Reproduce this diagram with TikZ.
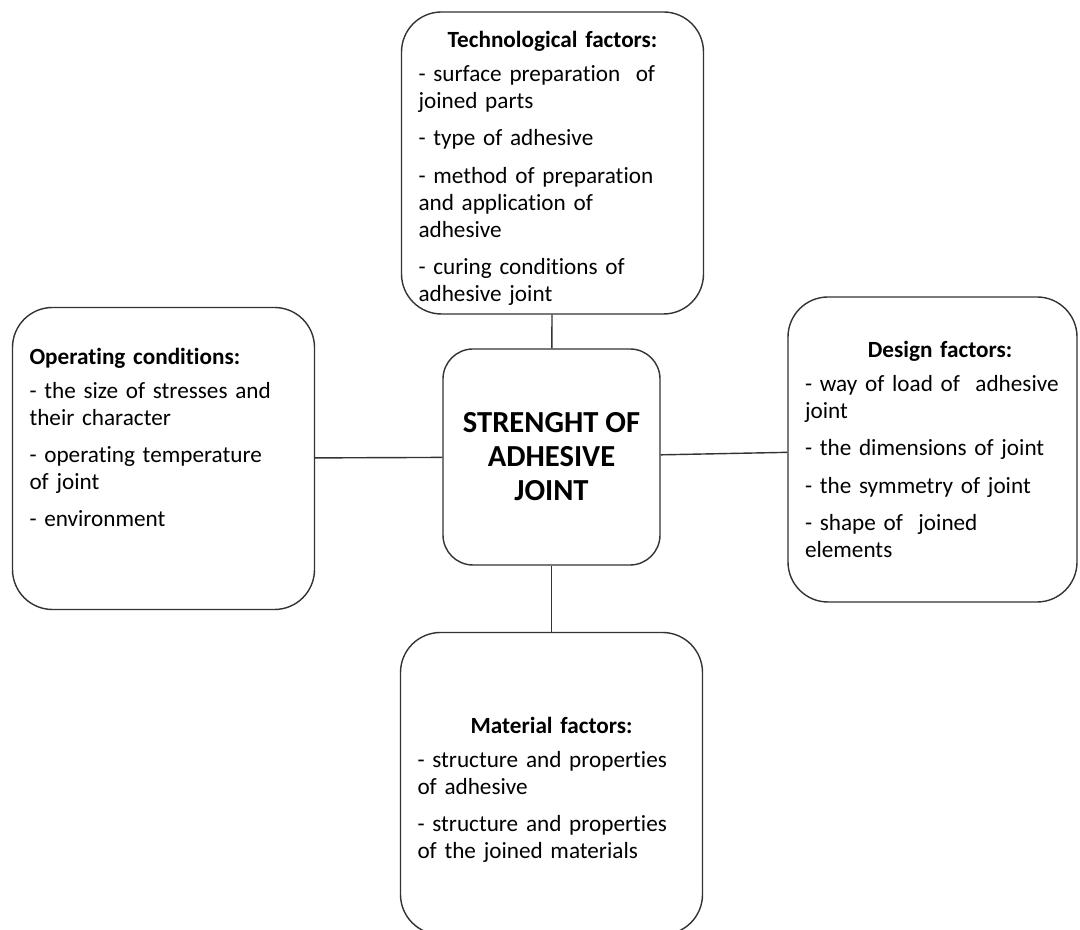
\documentclass[tikz,border=0pt]{standalone}
\usepackage{fontspec}
\setmainfont{Carlito}[Ligatures=NoCommon]
\usepackage{tikz}
\tikzstyle{factor} = [draw=black!80, line width=0.8pt, rounded corners=0.8cm, inner xsep=0.34cm, inner ysep=0pt, minimum height=6.04cm, text width=5.36cm, align=left, font=\fontsize{13.2}{15.3}\selectfont]
\tikzstyle{core} = [draw=black!80, line width=0.8pt, rounded corners=0.6cm, minimum width=4.34cm, minimum height=4.32cm, align=center, font=\fontsize{17.4}{19.3}\selectfont\bfseries]
\tikzstyle{link} = [draw=black!80, line width=0.8pt]

\begin{document}
\begin{tikzpicture}
  \useasboundingbox (0,0) rectangle (21.6,18.6);
  \node (core) at (11.03,9.46) [core] {STRENGHT OF\\ ADHESIVE\\ JOINT};
  \node (tech) at (11.05,15.34) [factor] {\makebox[\linewidth]{\rule{0pt}{0.54cm}\bfseries Technological factors:}\\[4pt]
    - surface preparation~ of\\ joined parts\\[6pt]
    - type of adhesive\\[6pt]
    - method of preparation\\ and application of\\ adhesive\\[6pt]
    - curing conditions of\\ adhesive joint};
  \node (oper) at (3.27,9.43) [factor] {\textbf{Operating conditions:}\\[4pt]
    - the size of stresses and\\ their character\\[6pt]
    - operating temperature\\ of joint\\[6pt]
    - environment\par\kern0.84cm};
  \node (design) at (18.65,9.61) [factor, text width=5.1cm, minimum height=6.1cm] {\makebox[\linewidth]{\hspace{0.3cm}\bfseries Design factors:}\\[4pt]
    - way~of~load~of~~adhesive\\ joint\\[6pt]
    - the dimensions of joint\\[6pt]
    - the symmetry of joint\\[6pt]
    - shape of~ joined\\ elements};
  \node (mat) at (11.03,2.93) [factor] {\makebox[\linewidth]{\rule{0pt}{0.58cm}\bfseries Material factors:}\\[4pt]
    - structure and properties\\ of adhesive\\[6pt]
    - structure and properties\\ of the joined materials};
  \draw [link] (tech) to (core);
  \draw [link] (oper) to (core);
  \draw [link] (core) to (design);
  \draw [link] (core) to (mat);
\end{tikzpicture}
\end{document}
